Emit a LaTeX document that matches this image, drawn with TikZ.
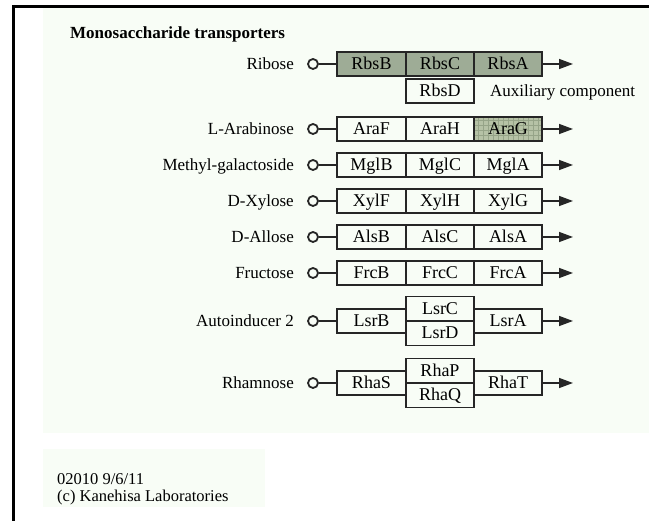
\documentclass[tikz,border=0pt]{standalone}
\usepackage{fontspec}
\setmainfont{Liberation Serif}
\usetikzlibrary{arrows.meta}
\definecolor{bgtint}{RGB}{248,253,246}
\definecolor{rbsfill}{RGB}{158,172,150}
\definecolor{aragfill}{RGB}{182,194,166}
\definecolor{araggrid}{RGB}{150,164,136}
\tikzset{
  cell/.style={draw=black!85, line width=1.3pt, minimum width=68pt, minimum height=24pt,
    inner sep=0pt, text height=11.5pt, text depth=0pt, font=\fontsize{18}{18}\selectfont},
  wide/.style={minimum width=69pt},
  tall/.style={minimum height=24.5pt},
  rbs/.style={fill=rbsfill},
  arag/.style={fill=aragfill, path picture={\draw[araggrid, line width=0.4pt, step=5pt]
    (path picture bounding box.south west) grid (path picture bounding box.north east);}},
  lbl/.style={anchor=east, inner sep=0pt, text height=11pt, text depth=0pt, font=\fontsize{17}{17}\selectfont},
  port/.style={circle, draw=black!85, line width=1.8pt, minimum size=10pt, inner sep=0pt},
  link/.style={draw=black!85, line width=1.4pt},
  outarrow/.style={link, -{Triangle[length=14pt,width=10pt]}},
  frame/.style={line width=3pt, black}
}
\begin{document}
\begin{tikzpicture}[x=1pt, y=-1pt]
\useasboundingbox (0,0) rectangle (649,521);
\fill[white] (0,0) rectangle (649,521);
\fill[bgtint] (43,8) rectangle (649,433);
\fill[bgtint] (43,449) rectangle (265,507);
\draw[frame] (13.5,5) -- (13.5,521);
\draw[frame] (12,6.5) -- (649,6.5);

\node[anchor=base west, inner sep=0pt, font=\fontsize{17}{17}\selectfont\bfseries] (title) at (70,39) {Monosaccharide transporters};

% Ribose
\node[lbl] (lRbs) at (294,64) {Ribose};
\node[port] (pRbs) at (313,64) {};
\node[cell, wide, rbs] (RbsB) at (371.5,64) {RbsB};
\node[cell, rbs] (RbsC) at (440,64) {RbsC};
\node[cell, rbs] (RbsA) at (508,64) {RbsA};
\node[cell] (RbsD) at (440,91) {RbsD};
\node[lbl, anchor=west] (aux) at (490,91) {Auxiliary component};
\coordinate (eRbs) at (573,64);
\draw[link] (pRbs) -- (RbsB);
\draw[outarrow] (RbsA) -- (eRbs);

% L-Arabinose
\node[lbl] (lAra) at (294,129) {L-Arabinose};
\node[port] (pAra) at (313,129) {};
\node[cell, wide] (AraF) at (371.5,129) {AraF};
\node[cell] (AraH) at (440,129) {AraH};
\node[cell, arag] (AraG) at (508,129) {AraG};
\coordinate (eAra) at (573,129);
\draw[link] (pAra) -- (AraF);
\draw[outarrow] (AraG) -- (eAra);

% Methyl-galactoside
\node[lbl] (lMgl) at (294,165) {Methyl-galactoside};
\node[port] (pMgl) at (313,165) {};
\node[cell, wide] (MglB) at (371.5,165) {MglB};
\node[cell] (MglC) at (440,165) {MglC};
\node[cell] (MglA) at (508,165) {MglA};
\coordinate (eMgl) at (573,165);
\draw[link] (pMgl) -- (MglB);
\draw[outarrow] (MglA) -- (eMgl);

% D-Xylose
\node[lbl] (lXyl) at (294,201) {D-Xylose};
\node[port] (pXyl) at (313,201) {};
\node[cell, wide] (XylF) at (371.5,201) {XylF};
\node[cell] (XylH) at (440,201) {XylH};
\node[cell] (XylG) at (508,201) {XylG};
\coordinate (eXyl) at (573,201);
\draw[link] (pXyl) -- (XylF);
\draw[outarrow] (XylG) -- (eXyl);

% D-Allose
\node[lbl] (lAls) at (294,237) {D-Allose};
\node[port] (pAls) at (313,237) {};
\node[cell, wide] (AlsB) at (371.5,237) {AlsB};
\node[cell] (AlsC) at (440,237) {AlsC};
\node[cell] (AlsA) at (508,237) {AlsA};
\coordinate (eAls) at (573,237);
\draw[link] (pAls) -- (AlsB);
\draw[outarrow] (AlsA) -- (eAls);

% Fructose
\node[lbl] (lFrc) at (294,273) {Fructose};
\node[port] (pFrc) at (313,273) {};
\node[cell, wide] (FrcB) at (371.5,273) {FrcB};
\node[cell] (FrcC) at (440,273) {FrcC};
\node[cell] (FrcA) at (508,273) {FrcA};
\coordinate (eFrc) at (573,273);
\draw[link] (pFrc) -- (FrcB);
\draw[outarrow] (FrcA) -- (eFrc);

% Autoinducer 2
\node[lbl] (lLsr) at (294,321) {Autoinducer 2};
\node[port] (pLsr) at (313,321) {};
\node[cell, wide] (LsrB) at (371.5,321) {LsrB};
\node[cell, tall] (LsrC) at (440,308.75) {LsrC};
\node[cell, tall] (LsrD) at (440,333.25) {LsrD};
\node[cell] (LsrA) at (508,321) {LsrA};
\coordinate (eLsr) at (573,321);
\draw[link] (pLsr) -- (LsrB);
\draw[outarrow] (LsrA) -- (eLsr);

% Rhamnose
\node[lbl] (lRha) at (294,383) {Rhamnose};
\node[port] (pRha) at (313,383) {};
\node[cell, wide] (RhaS) at (371.5,383) {RhaS};
\node[cell, tall] (RhaP) at (440,370.75) {RhaP};
\node[cell, tall] (RhaQ) at (440,395.25) {RhaQ};
\node[cell] (RhaT) at (508,383) {RhaT};
\coordinate (eRha) at (573,383);
\draw[link] (pRha) -- (RhaS);
\draw[outarrow] (RhaT) -- (eRha);

% footer
\node[anchor=base west, inner sep=0pt, font=\fontsize{16.5}{16.5}\selectfont] (foot1) at (57,485) {02010 9/6/11};
\node[anchor=base west, inner sep=0pt, font=\fontsize{16.5}{16.5}\selectfont] (foot2) at (57,502) {(c) Kanehisa Laboratories};
\end{tikzpicture}
\end{document}
